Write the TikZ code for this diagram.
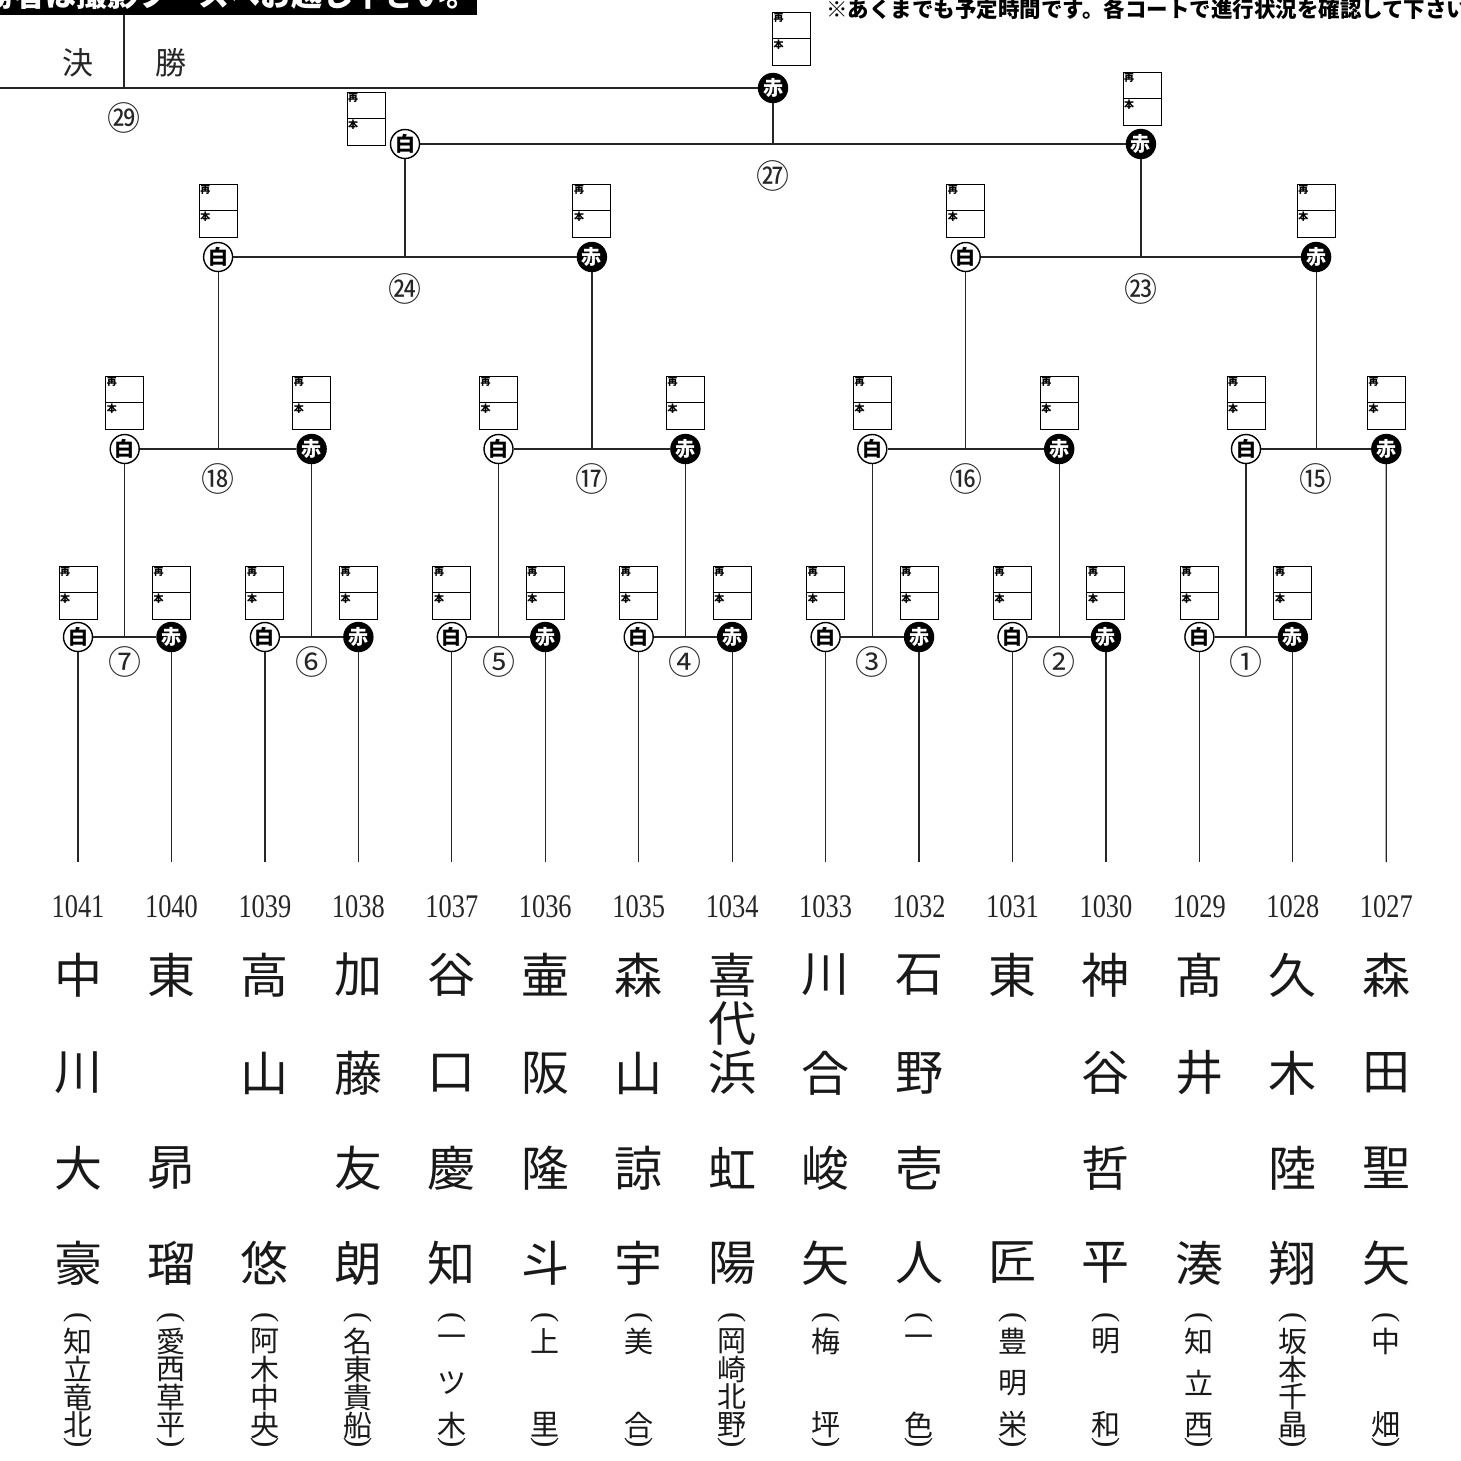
\documentclass[tikz,border=0pt]{standalone}
\usepackage{fontspec}
\setmainfont{Liberation Serif}
\newfontfamily\jp{Noto Sans CJK JP}
\newfontfamily\numfont[FakeStretch=0.8]{Liberation Serif}
\usetikzlibrary{calc}
\tikzset{
 ln/.style={draw=black!85, line width=1.2pt},
 tl/.style={draw=black!85, line width=1.2pt},
 wc/.style={circle, draw=black, line width=1.4pt, fill=white, minimum size=29pt, inner sep=0pt, font=\jp\bfseries\fontsize{20}{20}\selectfont},
 rc/.style={circle, fill=black, draw=black, line width=1.4pt, text=white, minimum size=29pt, inner sep=0pt, font=\jp\bfseries\fontsize{20}{20}\selectfont},
 sbx/.style={rectangle, draw=black, line width=1pt, minimum width=38pt, minimum height=53pt, inner sep=0pt, fill=white},
 tinylbl/.style={font=\jp\bfseries\fontsize{10}{10}\selectfont, inner sep=1.5pt},
 mnum/.style={font=\jp\fontsize{33}{33}\selectfont, inner sep=0pt, text=black!85},
 tnum/.style={font=\numfont\fontsize{33}{33}\selectfont, inner sep=0pt, text=black!85},
 nm/.style={font=\jp\fontsize{48}{48}\selectfont, inner sep=0pt, text=black!90},
 sch/.style={font=\jp\fontsize{29}{29}\selectfont, inner sep=0pt, text=black!90},
 prn/.style={font=\fontsize{31}{31}\selectfont, rotate=-90, inner sep=0pt, text=black!90},
 hdr/.style={font=\jp\fontsize{31}{31}\selectfont, inner sep=0pt, text=black!85},
}
\newcommand\scorebx[3]{%
 \node[sbx] (#1) at (#2,#3+26.5) {};
 \draw[line width=1pt] (#1.west) -- (#1.east);
 \node[tinylbl, anchor=north west] (#1p) at (#1.north west) {再};
 \node[tinylbl, anchor=north west] (#1q) at (#1.west) {本};
}
\newcommand\namecol[6]{%
 \node[nm] (n#1a) at (#2,975) {#3};
 \node[nm] (n#1b) at (#2,1073) {#4};
 \node[nm] (n#1c) at (#2,1168) {#5};
 \node[nm] (n#1d) at (#2,1263) {#6};
}
\newcommand\school[4]{%
 \node[prn] (s#1o) at (#2,1318) {(};
 \node[prn] (s#1c) at (#2,1443) {)};
 \foreach \c [count=\k] in {#4} {
   \pgfmathsetmacro\yy{1341+(\k-1)*84/(#3-1)}
   \node[sch] (s#1-\k) at (#2,\yy) {\c};
 }
}
\begin{document}
\begin{tikzpicture}[x=1pt,y=-1pt]
\useasboundingbox (0,0) rectangle (1461,1460);
\clip (0,0) rectangle (1461,1460);
\fill[white] (0,0) rectangle (1461,1460);

% banner and note
\fill[black] (0,0) rectangle (477,15);
\begin{scope}
\clip (0,0) rectangle (477,15);
\node[font=\jp\bfseries\fontsize{31}{31}\selectfont, text=white, anchor=base east, inner sep=0pt] (banner) at (478,6) {優勝者は撮影ブースへお越し下さい。};
\end{scope}
\node[font=\jp\bfseries\fontsize{21.5}{21.5}\selectfont, anchor=base west, inner sep=0pt] (note) at (826,17) {※あくまでも予定時間です。各コートで進行状況を確認して下さい};

% final header
\coordinate (hd1) at (124,15);
\coordinate (hd2) at (124,88);
\draw[ln] (hd1) -- (hd2);
\node[hdr] (kets) at (78,63) {決};
\node[hdr] (shou) at (171,63) {勝};

% team numbers and end points
\foreach \k in {0,...,14} {
 \pgfmathsetmacro\xx{78+93.45*\k}
 \pgfmathtruncatemacro\id{1041-\k}
 \node[tnum] (t\id) at (\xx,907) {\id};
 \coordinate (e\id) at (\xx,862);
}

% round 1
\foreach \k/\m in {0/7,1/6,2/5,3/4,4/3,5/2,6/1} {
 \pgfmathsetmacro\xa{78+93.45*2*\k}
 \pgfmathsetmacro\xb{78+93.45*(2*\k+1)}
 \pgfmathtruncatemacro\ida{1041-2*\k}
 \pgfmathtruncatemacro\idb{1040-2*\k}
 \draw[tl] (\xa,637) -- (e\ida);
 \draw[tl] (\xb,637) -- (e\idb);
 \node[wc] (m\m w) at (\xa,637) {白};
 \node[rc] (m\m r) at (\xb,637) {赤};
 \draw[ln] (m\m w) -- (m\m r);
 \scorebx{b\m w}{\xa}{566}
 \scorebx{b\m r}{\xb}{566}
}
\node[mnum] (l7) at (124.7,662) {⑦};
\node[mnum] (l6) at (311.6,662) {⑥};
\node[mnum] (l5) at (498.5,662) {⑤};
\node[mnum] (l4) at (685.4,662) {④};
\node[mnum] (l3) at (872.3,662) {③};
\node[mnum] (l2) at (1059.2,662) {②};
\node[mnum] (l1) at (1246.0,662) {①};

% round 2
\node[wc] (r2a) at (124.7,449) {白};
\node[rc] (r2b) at (311.6,449) {赤};
\node[wc] (r2c) at (498.5,449) {白};
\node[rc] (r2d) at (685.4,449) {赤};
\node[wc] (r2e) at (872.3,449) {白};
\node[rc] (r2f) at (1059.2,449) {赤};
\node[wc] (r2g) at (1246.0,449) {白};
\node[rc] (r2h) at (1386.3,449) {赤};
\draw[ln] (r2a) -- (r2a |- m7w);
\draw[ln] (r2b) -- (r2b |- m6w);
\draw[ln] (r2c) -- (r2c |- m5w);
\draw[ln] (r2d) -- (r2d |- m4w);
\draw[ln] (r2e) -- (r2e |- m3w);
\draw[ln] (r2f) -- (r2f |- m2w);
\draw[ln] (r2g) -- (r2g |- m1w);
\draw[tl] (r2h) -- (e1027);
\draw[ln] (r2a) -- (r2b);
\draw[ln] (r2c) -- (r2d);
\draw[ln] (r2e) -- (r2f);
\draw[ln] (r2g) -- (r2h);
\foreach \n/\xx in {r2a/124.7,r2b/311.6,r2c/498.5,r2d/685.4,r2e/872.3,r2f/1059.2,r2g/1246.0,r2h/1386.3} {
 \scorebx{b\n}{\xx}{376}
}
\node[mnum] (l18) at (218.1,479) {⑱};
\node[mnum] (l17) at (591.9,479) {⑰};
\node[mnum] (l16) at (965.7,479) {⑯};
\node[mnum] (l15) at (1316.1,479) {⑮};

% round 3
\node[wc] (r3a) at (218.1,257) {白};
\node[rc] (r3b) at (591.9,257) {赤};
\node[wc] (r3c) at (965.7,257) {白};
\node[rc] (r3d) at (1316.1,257) {赤};
\draw[ln] (r3a) -- (r3a |- r2a);
\draw[ln] (r3b) -- (r3b |- r2c);
\draw[ln] (r3c) -- (r3c |- r2e);
\draw[ln] (r3d) -- (r3d |- r2g);
\draw[ln] (r3a) -- (r3b);
\draw[ln] (r3c) -- (r3d);
\foreach \n/\xx in {r3a/218.1,r3b/591.9,r3c/965.7,r3d/1316.1} {
 \scorebx{b\n}{\xx}{184}
}
\node[mnum] (l24) at (405,289) {㉔};
\node[mnum] (l23) at (1140.9,289) {㉓};

% round 4
\node[wc] (r4a) at (405,144) {白};
\node[rc] (r4b) at (1140.9,144) {赤};
\draw[ln] (r4a) -- (r4a |- r3a);
\draw[ln] (r4b) -- (r4b |- r3c);
\draw[ln] (r4a) -- (r4b);
\scorebx{br4a}{366}{92}
\scorebx{br4b}{1142}{72}
\node[mnum] (l27) at (773,176) {㉗};

% final
\node[rc] (r5) at (773,88) {赤};
\coordinate (f0) at (0,88);
\draw[ln] (r5) -- (r5 |- r4a);
\draw[ln] (f0) -- (r5);
\scorebx{br5}{791.5}{12}
\node[mnum] (l29) at (124,118) {㉙};

% names
\namecol{1041}{78}{中}{川}{大}{豪}
\namecol{1040}{171.45}{東}{}{昴}{瑠}
\namecol{1039}{264.9}{高}{山}{}{悠}
\namecol{1038}{358.35}{加}{藤}{友}{朗}
\namecol{1037}{451.8}{谷}{口}{慶}{知}
\namecol{1036}{545.25}{壷}{阪}{隆}{斗}
\namecol{1035}{638.7}{森}{山}{諒}{宇}
\node[nm] (n1034a) at (732.15,975) {喜};
\node[nm] (n1034x) at (732.15,1024) {代};
\node[nm] (n1034b) at (732.15,1072) {浜};
\node[nm] (n1034c) at (732.15,1168) {虹};
\node[nm] (n1034d) at (732.15,1263) {陽};
\namecol{1033}{825.6}{川}{合}{峻}{矢}
\namecol{1032}{919.05}{石}{野}{壱}{人}
\namecol{1031}{1012.5}{東}{}{}{匠}
\namecol{1030}{1105.95}{神}{谷}{哲}{平}
\namecol{1029}{1199.4}{髙}{井}{}{湊}
\namecol{1028}{1292.85}{久}{木}{陸}{翔}
\namecol{1027}{1386.3}{森}{田}{聖}{矢}

% schools
\school{1041}{78}{4}{知,立,竜,北}
\school{1040}{171.45}{4}{愛,西,草,平}
\school{1039}{264.9}{4}{阿,木,中,央}
\school{1038}{358.35}{4}{名,東,貴,船}
\school{1037}{451.8}{3}{一,ツ,木}
\school{1036}{545.25}{2}{上,里}
\school{1035}{638.7}{2}{美,合}
\school{1034}{732.15}{4}{岡,崎,北,野}
\school{1033}{825.6}{2}{梅,坪}
\school{1032}{919.05}{2}{一,色}
\school{1031}{1012.5}{3}{豊,明,栄}
\school{1030}{1105.95}{2}{明,和}
\school{1029}{1199.4}{3}{知,立,西}
\school{1028}{1292.85}{4}{坂,本,千,晶}
\school{1027}{1386.3}{2}{中,畑}
\end{tikzpicture}
\end{document}
